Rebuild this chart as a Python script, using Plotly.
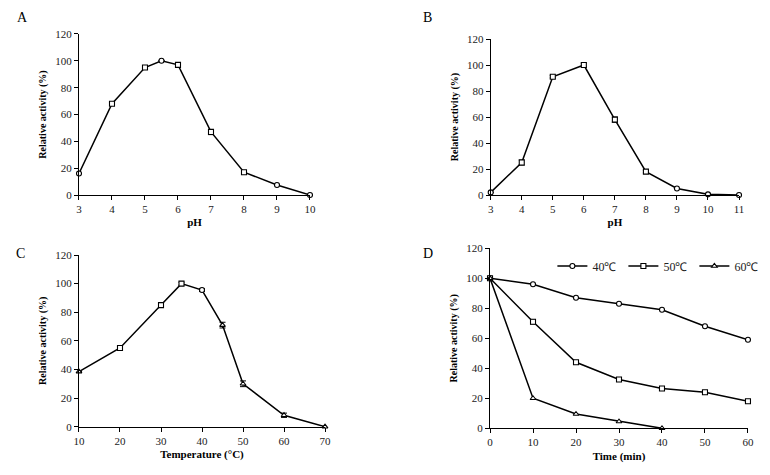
import plotly.graph_objects as go

# panel A - pH optimum
ph_a = [3, 4, 5, 5.5, 6, 7, 8, 9, 10]
act_a = [16, 68, 95, 100, 97, 47, 17, 7.5, 0]
err_a = [0, 1, 1, 0, 1, 2, 1, 0, 0]

# panel B - pH stability
ph_b = [3, 4, 5, 6, 7, 8, 9, 10, 11]
act_b = [2, 25, 91, 100, 58, 18, 5, 0.5, 0]
err_b = [0, 2, 1, 1.5, 2, 1, 0, 0, 0]

# panel C - temperature optimum
temp_c = [10, 20, 30, 35, 40, 45, 50, 60, 70]
act_c = [38.5, 55, 85, 100, 95.5, 71, 30, 8, 0]
err_c = [0, 1, 1, 1, 1, 2, 2, 1.5, 0]

# panel D - thermostability
time_d = [0, 10, 20, 30, 40, 50, 60]
act_40 = [100, 96, 87, 83, 79, 68, 59]
act_50 = [100, 71, 44, 32.5, 26.5, 24, 18]
time_60 = [0, 10, 20, 30, 40]
act_60 = [100, 20, 9.5, 4.5, 0]
err_50 = [1, 1.5, 1, 1, 1, 1, 1]

FONT = "Liberation Serif"
sym_a = ["circle", "square", "square", "circle", "square", "square", "square", "circle", "circle"]
sym_b = ["circle", "square", "square", "square", "square", "square", "circle", "circle", "circle"]
sym_c = ["triangle-up", "square", "square", "square", "circle", "triangle-up", "triangle-up", "triangle-up", "triangle-up"]

fig = go.Figure()


def add_curve(x, y, err, sym, xa, ya, name="", show=False):
    fig.add_trace(go.Scatter(
        x=x, y=y, mode="lines+markers", name=name, showlegend=show,
        xaxis=xa, yaxis=ya, cliponaxis=False,
        line=dict(color="black", width=1.5),
        marker=dict(symbol=sym, size=5, color="white", line=dict(color="black", width=1.1)),
        error_y=dict(type="data", array=err, visible=err is not None, color="black", thickness=1, width=3),
    ))


add_curve(ph_a, act_a, err_a, sym_a, "x", "y")
add_curve(ph_b, act_b, err_b, sym_b, "x2", "y2")
add_curve(temp_c, act_c, err_c, sym_c, "x3", "y3")
add_curve(time_d, act_40, None, "circle", "x4", "y4", "40\u2103", True)
add_curve(time_d, act_50, err_50, "square", "x4", "y4", "50\u2103", True)
add_curve(time_60, act_60, None, "triangle-up", "x4", "y4", "60\u2103", True)

xstyle = dict(showline=True, linecolor="black", linewidth=1, ticks="outside", ticklen=4,
              tickcolor="black", showgrid=False, zeroline=False, automargin=False,
              tickfont=dict(family=FONT, size=11, color="#222"),
              title_font=dict(family=FONT, size=11, color="black"), title_standoff=4)
ystyle = dict(showline=True, linecolor="black", linewidth=1, ticks="outside", ticklen=4,
              tickcolor="black", showgrid=False, zeroline=False, range=[0, 120], dtick=20,
              automargin=False,
              tickfont=dict(family=FONT, size=11, color="#222"),
              title_text="<b>Relative activity (%)</b>",
              title_font=dict(family=FONT, size=10, color="black"), title_standoff=6)

# page has an 8px body margin, so the domains below are shifted by that amount
fig.update_layout(
    width=770, height=475, margin=dict(l=0, r=0, t=0, b=0),
    paper_bgcolor="white", plot_bgcolor="white",
    font=dict(family=FONT, color="black"),
    xaxis=dict(xstyle, domain=[0.0922, 0.3922], range=[3, 10], dtick=1, anchor="y", title_text="<b>pH</b>"),
    yaxis=dict(ystyle, domain=[0.6063, 0.9453], anchor="x"),
    xaxis2=dict(xstyle, domain=[0.6269, 0.9494], range=[3, 11], dtick=1, anchor="y2", title_text="<b>pH</b>"),
    yaxis2=dict(ystyle, domain=[0.6063, 0.9347], anchor="x2"),
    xaxis3=dict(xstyle, domain=[0.0922, 0.4117], range=[10, 70], dtick=10, anchor="y3",
                title_text="<b>Temperature (\u00b0C)</b>"),
    yaxis3=dict(ystyle, domain=[0.1185, 0.48], anchor="x3"),
    xaxis4=dict(xstyle, domain=[0.6260, 0.9610], range=[0, 60], dtick=10, anchor="y4",
                title_text="<b>Time (min)</b>"),
    yaxis4=dict(ystyle, domain=[0.1152, 0.4941], anchor="x4"),
    legend=dict(orientation="h", x=0.707, y=0.4568, xanchor="left", yanchor="middle",
                bgcolor="rgba(0,0,0,0)", font=dict(family=FONT, size=12, color="#222"),
                itemwidth=30, tracegroupgap=0, entrywidth=26, entrywidthmode="pixels"),
)

for txt, x, y in [("A", 14, 10), ("B", 420, 10), ("C", 12, 245), ("D", 420, 245)]:
    fig.add_annotation(text=txt, x=x / 770, y=1 - y / 475, xref="paper", yref="paper",
                       xanchor="center", yanchor="middle", showarrow=False,
                       font=dict(family=FONT, size=14, color="black"))

fig.write_html("out.html")
